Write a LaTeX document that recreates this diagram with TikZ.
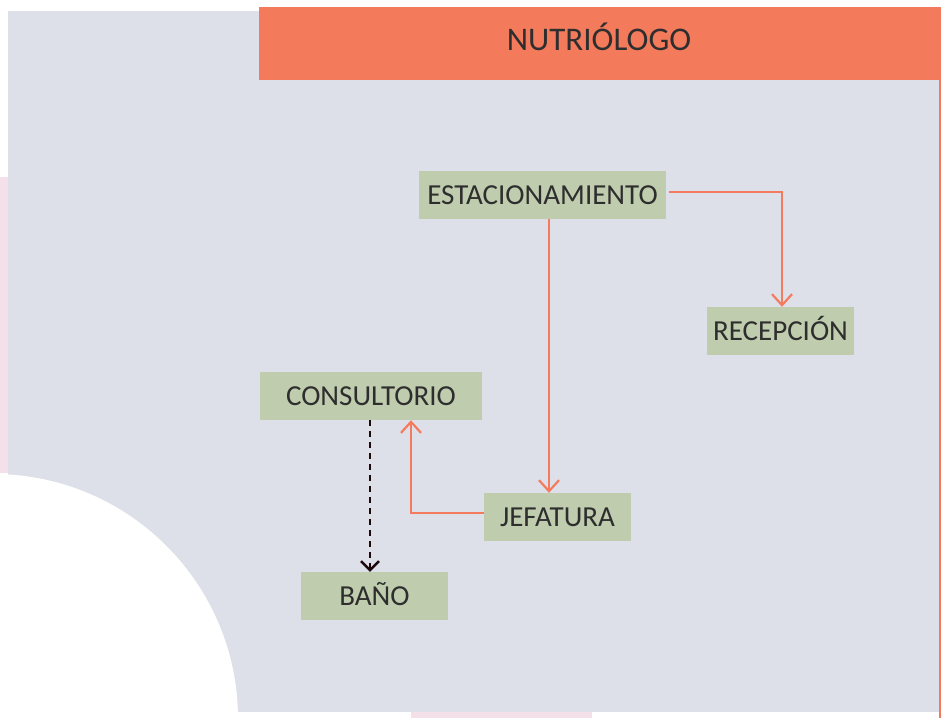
\documentclass[tikz,border=0pt]{standalone}
\usepackage{fontspec}
\setmainfont{Carlito}
\usetikzlibrary{arrows.meta}
\definecolor{bgc}{HTML}{DEE0E9}
\definecolor{pinkc}{HTML}{F3E0E8}
\definecolor{hdr}{HTML}{F37A5B}
\definecolor{boxc}{HTML}{BFCCAE}
\definecolor{txtc}{HTML}{2E2E2E}
\definecolor{arrc}{HTML}{F47B5E}
\definecolor{dashc}{HTML}{1C0A0A}
\tikzset{
  room/.style={fill=boxc, inner sep=0pt, minimum height=48pt, text height=18.7pt, text depth=0pt,
    text=txtc, font=\fontsize{29}{33}\selectfont},
  flow/.style={draw=arrc, line width=2.2pt, -{Straight Barb[length=11pt,width=20pt,line width=2.2pt]}},
  dflow/.style={draw=dashc, line width=2.4pt, dash pattern=on 6pt off 5pt,
    -{Straight Barb[length=9pt,width=18pt,line width=2.4pt]}}
}
\begin{document}
\begin{tikzpicture}[x=1pt,y=-1pt]
\useasboundingbox (0,0) rectangle (941,718);
\fill[white] (0,0) rectangle (941,718);
\fill[pinkc] (0,177) rectangle (8,473);
\fill[pinkc] (411,712) rectangle (592,718);
\fill[bgc] (8,11) rectangle (939,712);
\begin{scope}
  \clip (0,0) rectangle (941,718);
  \fill[white] (-7,719) circle (245pt);
\end{scope}
\fill[hdr] (259,7) rectangle (941,80);
\fill[hdr] (939,80) rectangle (941,718);
\node[anchor=base, text=txtc, font=\fontsize{33}{38}\selectfont, inner sep=0pt] (title) at (599,50) {NUTRIÓLOGO};

\node[room, minimum width=247pt] (est) at (542.5,195) {ESTACIONAMIENTO};
\node[room, minimum width=147pt] (rec) at (780.5,331) {RECEPCIÓN};
\node[room, minimum width=222pt] (cons) at (371,396) {CONSULTORIO};
\node[room, minimum width=147pt] (jef) at (557.5,517) {JEFATURA};
\node[room, minimum width=147pt] (bano) at (374.5,596) {BAÑO};

\draw[flow] ([xshift=3pt,yshift=3pt]est.east) -| ([xshift=1.5pt]rec.north);
\draw[flow] ([xshift=6.5pt]est.south) -- ([xshift=-8.5pt]jef.north);
\draw[flow] ([yshift=4pt]jef.west) -| ([xshift=40pt]cons.south);
\draw[dflow] ([xshift=-1pt]cons.south) -- ([xshift=-4.5pt]bano.north);
\end{tikzpicture}
\end{document}
